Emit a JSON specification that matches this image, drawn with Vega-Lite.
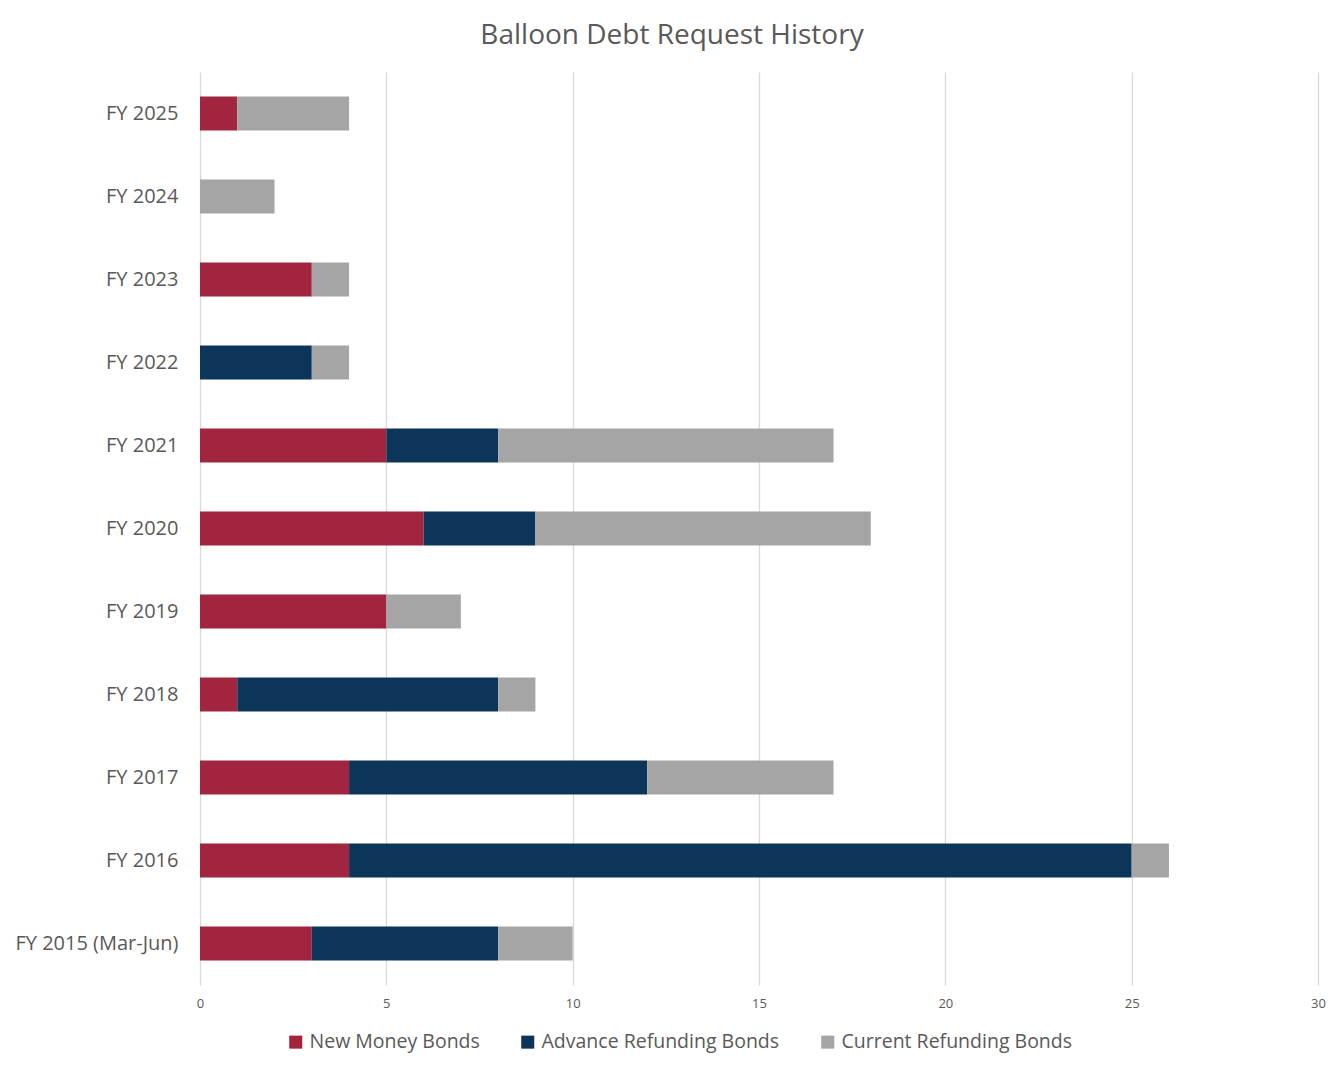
{
  "$schema": "https://vega.github.io/schema/vega-lite/v6.json",
  "autosize": "none",
  "width": 1118,
  "height": 913,
  "padding": {"left": 200, "top": 72, "right": 23, "bottom": 84},
  "background": "white",
  "title": {
    "text": "Balloon Debt Request History",
    "font": "Open Sans",
    "fontSize": 28,
    "fontWeight": "normal",
    "color": "#595959",
    "anchor": "middle",
    "dx": -87,
    "offset": 22
  },
  "config": {
    "view": {"stroke": null},
    "font": "Open Sans"
  },
  "data": {
    "values": [
      {"fy": "FY 2025", "type": "New Money Bonds", "k": 1, "count": 1},
      {"fy": "FY 2025", "type": "Current Refunding Bonds", "k": 3, "count": 3},
      {"fy": "FY 2024", "type": "Current Refunding Bonds", "k": 3, "count": 2},
      {"fy": "FY 2023", "type": "New Money Bonds", "k": 1, "count": 3},
      {"fy": "FY 2023", "type": "Current Refunding Bonds", "k": 3, "count": 1},
      {"fy": "FY 2022", "type": "Advance Refunding Bonds", "k": 2, "count": 3},
      {"fy": "FY 2022", "type": "Current Refunding Bonds", "k": 3, "count": 1},
      {"fy": "FY 2021", "type": "New Money Bonds", "k": 1, "count": 5},
      {"fy": "FY 2021", "type": "Advance Refunding Bonds", "k": 2, "count": 3},
      {"fy": "FY 2021", "type": "Current Refunding Bonds", "k": 3, "count": 9},
      {"fy": "FY 2020", "type": "New Money Bonds", "k": 1, "count": 6},
      {"fy": "FY 2020", "type": "Advance Refunding Bonds", "k": 2, "count": 3},
      {"fy": "FY 2020", "type": "Current Refunding Bonds", "k": 3, "count": 9},
      {"fy": "FY 2019", "type": "New Money Bonds", "k": 1, "count": 5},
      {"fy": "FY 2019", "type": "Current Refunding Bonds", "k": 3, "count": 2},
      {"fy": "FY 2018", "type": "New Money Bonds", "k": 1, "count": 1},
      {"fy": "FY 2018", "type": "Advance Refunding Bonds", "k": 2, "count": 7},
      {"fy": "FY 2018", "type": "Current Refunding Bonds", "k": 3, "count": 1},
      {"fy": "FY 2017", "type": "New Money Bonds", "k": 1, "count": 4},
      {"fy": "FY 2017", "type": "Advance Refunding Bonds", "k": 2, "count": 8},
      {"fy": "FY 2017", "type": "Current Refunding Bonds", "k": 3, "count": 5},
      {"fy": "FY 2016", "type": "New Money Bonds", "k": 1, "count": 4},
      {"fy": "FY 2016", "type": "Advance Refunding Bonds", "k": 2, "count": 21},
      {"fy": "FY 2016", "type": "Current Refunding Bonds", "k": 3, "count": 1},
      {"fy": "FY 2015 (Mar-Jun)", "type": "New Money Bonds", "k": 1, "count": 3},
      {"fy": "FY 2015 (Mar-Jun)", "type": "Advance Refunding Bonds", "k": 2, "count": 5},
      {"fy": "FY 2015 (Mar-Jun)", "type": "Current Refunding Bonds", "k": 3, "count": 2}
    ]
  },
  "mark": {"type": "bar"},
  "encoding": {
    "y": {
      "field": "fy",
      "type": "nominal",
      "sort": ["FY 2025", "FY 2024", "FY 2023", "FY 2022", "FY 2021", "FY 2020", "FY 2019", "FY 2018", "FY 2017", "FY 2016", "FY 2015 (Mar-Jun)"],
      "scale": {"paddingInner": 0.59, "paddingOuter": 0.295},
      "axis": {
        "title": null,
        "domain": false,
        "ticks": false,
        "labelFontSize": 20,
        "labelColor": "#595959",
        "labelPadding": 22,
        "labelFont": "Open Sans",
        "labelLimit": 300
      }
    },
    "x": {
      "field": "count",
      "type": "quantitative",
      "stack": "zero",
      "scale": {"domain": [0, 30], "nice": false},
      "axis": {
        "title": null,
        "values": [0, 5, 10, 15, 20, 25, 30],
        "domain": false,
        "ticks": false,
        "grid": true,
        "gridColor": "#d9d9d9",
        "gridWidth": 1.3,
        "labelFlush": false,
        "labelFontSize": 13,
        "labelColor": "#595959",
        "labelPadding": 12,
        "labelFont": "Open Sans"
      }
    },
    "order": {"field": "k", "type": "quantitative", "sort": "ascending"},
    "color": {
      "field": "type",
      "type": "nominal",
      "sort": ["New Money Bonds", "Advance Refunding Bonds", "Current Refunding Bonds"],
      "scale": {
        "domain": ["New Money Bonds", "Advance Refunding Bonds", "Current Refunding Bonds"],
        "range": ["#A1253F", "#0C3659", "#A5A5A5"]
      },
      "legend": {
        "title": null,
        "orient": "none",
        "direction": "horizontal",
        "legendX": 86,
        "legendY": 960,
        "symbolType": "square",
        "symbolSize": 170,
        "symbolStrokeWidth": 0,
        "labelFontSize": 19.5,
        "labelColor": "#595959",
        "labelFont": "Open Sans",
        "labelOffset": 4,
        "columnPadding": 38,
        "labelLimit": 400
      }
    }
  }
}
